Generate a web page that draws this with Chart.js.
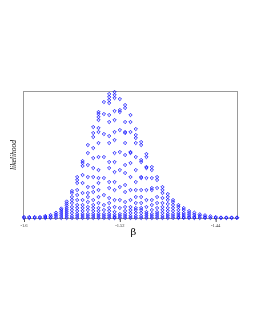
<!DOCTYPE html>
<html>
<head>
<meta charset="utf-8">
<script src="https://cdn.jsdelivr.net/npm/chart.js@4/dist/chart.umd.min.js"></script>
<style>
  html, body { margin: 0; padding: 0; background: #fff; }
  #wrap { width: 255px; height: 330px; }
</style>
</head>
<body>
<div id="wrap"><canvas id="likelihoodChart" width="255" height="330"></canvas></div>
<script>
// beta grid (one column of samples per value)
var betaValues = [
  -1.6, -1.5956, -1.5911, -1.5867, -1.5822, -1.5778, -1.5733, -1.5689, -1.5644, -1.56,
  -1.5556, -1.5511, -1.5467, -1.5422, -1.5378, -1.5333, -1.5289, -1.5244, -1.52, -1.5156,
  -1.5111, -1.5067, -1.5022, -1.4978, -1.4933, -1.4889, -1.4844, -1.48, -1.4756, -1.4711,
  -1.4667, -1.4622, -1.4578, -1.4533, -1.4489, -1.4444, -1.44, -1.4356, -1.4311, -1.4267,
  -1.4222
];

// likelihood values (arbitrary units) for each beta column
var likelihoodColumns = [
  [0, 1], [0, 1], [0, 1], [0, 1], [0, 1, 2], [0, 1.5, 3],
  [0, 2, 3.5, 5.3],
  [0, 2, 4, 6, 8, 9.5],
  [0, 2, 4, 6, 8, 10, 12.5, 14.5, 16.5],
  [0, 2, 5, 8, 11, 15, 18, 21, 25, 27],
  [0, 2, 4, 7, 10, 13, 18, 23, 28, 35, 38, 41],
  [0, 2, 4, 7, 10, 13, 18, 25, 35, 43, 52, 55, 57],
  [0, 2, 4, 8, 11, 16, 21, 25, 31, 41, 53, 65, 73],
  [0, 2, 4, 7, 10, 13, 18, 26, 31, 41, 50, 60, 70, 81, 85, 91],
  [0, 2, 4, 7, 10, 15, 21, 28, 35, 40, 48, 61, 75, 86, 90, 98, 101, 104, 106],
  [0, 2, 4, 8, 13, 23, 40, 61, 84, 104, 116],
  [0, 2, 4, 7, 10, 15, 20, 30, 36, 50, 56, 75, 82, 96, 103, 115, 118, 121, 124],
  [0, 1, 3, 6, 11, 18, 28, 36, 46, 56, 65, 78, 86, 98, 107, 120, 123, 126],
  [0, 2, 4, 10, 18, 31, 48, 66, 88, 106, 108, 119],
  [0, 2, 4, 7, 11, 16, 26, 33, 45, 53, 63, 75, 85, 86, 96, 110, 113],
  [0, 2, 5, 8, 11, 18, 28, 41, 55, 65, 66, 86, 96, 103],
  [0, 2, 5, 8, 10, 15, 21, 28, 36, 48, 61, 75, 80, 83, 89],
  [0, 2, 5, 8, 10, 15, 21, 28, 40, 41, 56, 58, 73, 76],
  [0, 2, 4, 6, 11, 18, 28, 40, 50, 51, 61, 64],
  [0, 2, 4, 8, 13, 18, 28, 30, 40, 48, 51],
  [0, 2, 4, 6, 10, 15, 21, 30, 38, 41],
  [0, 2, 5, 8, 11, 15, 20, 25, 28, 31],
  [0, 2, 4, 7, 10, 14, 18, 21, 24],
  [0, 2, 4, 7, 10, 13, 16, 18],
  [0, 1, 3, 5, 8, 11, 13],
  [0, 1, 3, 5, 8, 10],
  [0, 1, 3, 5, 7],
  [0, 1, 3, 5.3],
  [0, 2, 3.7],
  [0, 1, 2.7],
  [0, 1.7],
  [0, 1],
  [0, 0.5], [0, 0.5], [0, 0.5], [0, 0.5]
];

var xTickValues = [-1.6, -1.52, -1.44];
var xTickLabels = ['-1.6', '-1.52', '-1.44'];

var markerColor = 'rgba(0, 0, 255, 0.72)';
var markerFill = 'rgba(0, 0, 255, 0.1)';
var frameColor = '#9a9a9a';

var points = [];
betaValues.forEach(function(b, i) {
  likelihoodColumns[i].forEach(function(v) {
    points.push({ x: b, y: v });
  });
});

/* Plugin: frame, x tick labels and axis titles */
var frameLabelsPlugin = {
  id: 'frameLabels',
  beforeDatasetsDraw: function(chart) {
    var a = chart.chartArea;
    var c = chart.ctx;
    c.save();
    c.strokeStyle = frameColor;
    c.lineWidth = 1;
    c.strokeRect(a.left - 0.5, a.top - 0.5, a.right - a.left + 1, a.bottom - a.top + 1);
    c.restore();
  },
  afterDraw: function(chart) {
    var a = chart.chartArea;
    var c = chart.ctx;
    var xs = chart.scales.x;
    c.save();
    c.fillStyle = '#333';
    c.strokeStyle = '#555';
    c.font = '4.5px "Liberation Serif", serif';
    c.textAlign = 'center';
    c.textBaseline = 'top';
    xTickValues.forEach(function(v, i) {
      var px = xs.getPixelForValue(v);
      c.beginPath();
      c.moveTo(px + 0.5, a.bottom + 1);
      c.lineTo(px + 0.5, a.bottom + 4);
      c.stroke();
      c.fillText(xTickLabels[i], px, a.bottom + 6);
    });
    c.fillStyle = '#000';
    c.font = '10px "DejaVu Serif", serif';
    c.textBaseline = 'middle';
    c.fillText('\u03b2', (a.left + a.right) / 2 + 3, a.bottom + 14);
    c.translate(14, (a.top + a.bottom) / 2);
    c.rotate(-Math.PI / 2);
    c.font = 'italic 7.5px "Liberation Serif", serif';
    c.fillText('likelihood', 0, 0);
    c.restore();
  }
};

new Chart(document.getElementById('likelihoodChart'), {
  type: 'scatter',
  data: {
    datasets: [{
      label: 'likelihood',
      data: points,
      pointStyle: 'rectRot',
      pointRadius: 1.7,
      pointBorderWidth: 1,
      borderColor: markerColor,
      backgroundColor: markerFill,
      clip: false
    }]
  },
  options: {
    responsive: false,
    devicePixelRatio: 1,
    animation: false,
    layout: { padding: { left: 24, right: 18, top: 92, bottom: 112 } },
    plugins: {
      legend: { display: false },
      tooltip: { enabled: false }
    },
    scales: {
      x: { type: 'linear', min: -1.6, max: -1.4222, display: false },
      y: { type: 'linear', min: 0, max: 126, display: false }
    }
  },
  plugins: [frameLabelsPlugin]
});
</script>
</body>
</html>
